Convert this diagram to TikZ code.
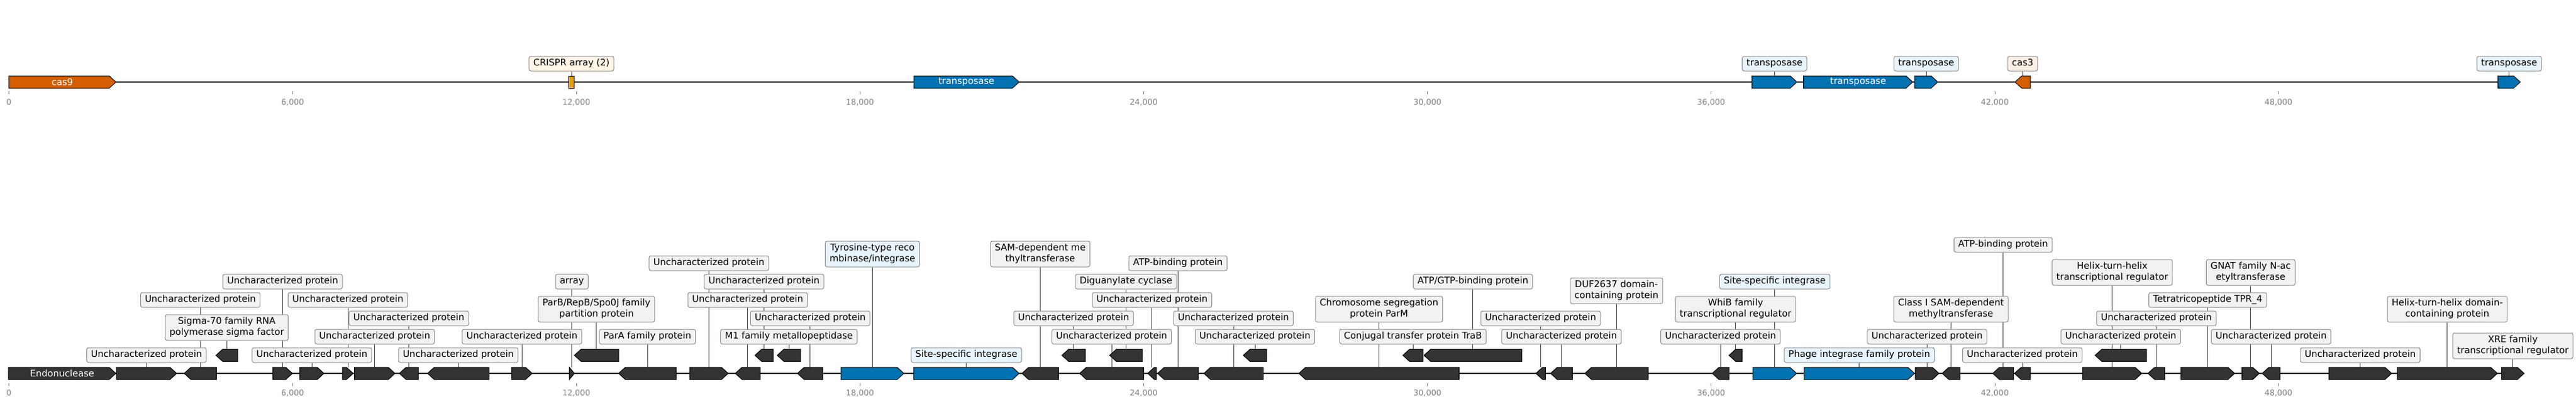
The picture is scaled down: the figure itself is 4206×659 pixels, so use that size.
\documentclass[tikz,border=0pt]{standalone}
\usepackage{fontspec}
\setmainfont{DejaVu Sans}
\definecolor{genedark}{HTML}{333333}
\definecolor{geneblue}{HTML}{0072B2}
\definecolor{geneorange}{HTML}{D55E00}
\definecolor{genegold}{HTML}{E69F00}
\definecolor{boxgray}{HTML}{F2F2F2}
\definecolor{boxblue}{HTML}{E8F4FB}
\definecolor{boxcream}{HTML}{FFF6E6}
\definecolor{boxpeach}{HTML}{FCEFE6}
\definecolor{boxedge}{HTML}{8C8C8C}
\definecolor{conncol}{HTML}{444444}
\definecolor{tickcol}{HTML}{808080}
\pgfdeclarelayer{bgfill}
\pgfdeclarelayer{background}
\pgfsetlayers{bgfill,background,main}
\tikzset{
  geneD/.style={fill=genedark, draw=black, line width=1pt, line join=miter},
  geneB/.style={fill=geneblue, draw=black, line width=1pt, line join=miter},
  geneO/.style={fill=geneorange, draw=black, line width=1pt, line join=miter},
  geneY/.style={fill=genegold, draw=black, line width=1pt},
  labbox/.style={draw=boxedge, line width=1pt, rounded corners=3pt, inner xsep=7pt, inner ysep=3pt, align=center, font=\fontsize{15}{18}\selectfont, text=black},
  labG/.style={fill=boxgray},
  labB/.style={fill=boxblue},
  labC/.style={fill=boxcream},
  labP/.style={fill=boxpeach},
  conn/.style={draw=conncol, line width=0.9pt},
  backbone/.style={draw=black, line width=2.2pt},
  gtext/.style={text=white, font=\fontsize{15}{18}\selectfont, inner sep=0pt},
  ticklab/.style={text=tickcol, font=\fontsize{13}{15}\selectfont, inner sep=0pt},
  tickmark/.style={draw=tickcol, line width=0.8pt}
}
\newcommand{\gR}[5]{%
  \pgfmathsetmacro{\ghd}{min(11,#3-#2)}%
  \pgfmathsetmacro{\gsh}{#3-\ghd}%
  \draw[#5] (#2,#4-10) -- (\gsh,#4-10) -- (#3,#4) -- (\gsh,#4+10) -- (#2,#4+10) -- cycle;%
  \coordinate (#1) at ({(#2+#3)/2},#4-10);%
}
\newcommand{\gL}[5]{%
  \pgfmathsetmacro{\ghd}{min(11,#3-#2)}%
  \pgfmathsetmacro{\gsh}{#2+\ghd}%
  \draw[#5] (#3,#4-10) -- (\gsh,#4-10) -- (#2,#4) -- (\gsh,#4+10) -- (#3,#4+10) -- cycle;%
  \coordinate (#1) at ({(#2+#3)/2},#4-10);%
}
\newcommand{\lab}[5]{%
  \node[labbox,#4] (#2) at (perpendicular cs: horizontal line through={(0,#3)}, vertical line through={(#1)}) {\strut #5};%
  \begin{pgfonlayer}{background}\draw[conn] (#2) -- (#1);\end{pgfonlayer}%
}
\newcommand{\labT}[6]{%
  \node[labbox,#4] (#2) at (perpendicular cs: horizontal line through={(0,#3)}, vertical line through={(#1)}) {\strut #5\\\strut #6};%
  \begin{pgfonlayer}{background}\draw[conn] (#2) -- (#1);\end{pgfonlayer}%
}
\newcommand{\gtxt}[3]{\node[gtext] (#2) at ([yshift=-10pt]#1) {#3};}
\begin{document}
\begin{tikzpicture}[x=1pt,y=-1pt]
\useasboundingbox (0,0) rectangle (4206,659);
\begin{pgfonlayer}{bgfill}
\fill[white] (0,0) rectangle (4206,659);
\end{pgfonlayer}

% ---------------- top track ----------------
\coordinate (topstart) at (14.3,134);
\coordinate (topend) at (4115,134);
\draw[backbone] (topstart) -- (topend);
\foreach \k/\t in {0/0,1/{6,000},2/{12,000},3/{18,000},4/{24,000},5/{30,000},6/{36,000},7/{42,000},8/{48,000}}{
  \draw[tickmark] ({14.6+\k*463.2},149) -- ({14.6+\k*463.2},154);
  \node[ticklab] (tt\k) at ({14.6+\k*463.2},167) {\t};
}
\gR{t1}{14.3}{189.3}{134}{geneO}
\gtxt{t1}{t1txt}{cas9}
\draw[geneY] (928.6,124) rectangle (937.5,144);
\coordinate (t2) at (933,124);
\lab{t2}{lt2}{104}{labC}{CRISPR array (2)}
\gR{t3}{1492}{1664}{134}{geneB}
\gtxt{t3}{t3txt}{transposase}
\gR{t4}{2860.7}{2934}{134}{geneB}
\lab{t4}{lt4}{104}{labB}{transposase}
\gR{t5}{2944.6}{3123}{134}{geneB}
\gtxt{t5}{t5txt}{transposase}
\gR{t6}{3126}{3164}{134}{geneB}
\lab{t6}{lt6}{104}{labB}{transposase}
\gL{t7}{3290}{3315}{134}{geneO}
\lab{t7}{lt7}{104}{labP}{cas3}
\gR{t8}{4078.6}{4115}{134}{geneB}
\lab{t8}{lt8}{104}{labB}{transposase}

% ---------------- bottom track ----------------
\coordinate (botstart) at (14,610);
\coordinate (botend) at (4121.3,610);
\draw[backbone] (botstart) -- (botend);
\foreach \k/\t in {0/0,1/{6,000},2/{12,000},3/{18,000},4/{24,000},5/{30,000},6/{36,000},7/{42,000},8/{48,000}}{
  \draw[tickmark] ({14.6+\k*463.2},626) -- ({14.6+\k*463.2},631);
  \node[ticklab] (tb\k) at ({14.6+\k*463.2},642) {\t};
}
\gR{b1}{13.8}{189.2}{610}{geneD}
\gtxt{b1}{b1txt}{Endonuclease}
\gR{b2}{190}{288.5}{610}{geneD}
\gL{b3}{300.7}{353.5}{610}{geneD}
\gL{u1}{352.6}{388}{580.5}{geneD}
\gR{b4}{445.4}{477.5}{610}{geneD}
\gR{b5}{489.4}{529}{610}{geneD}
\gR{b6}{559.2}{576.7}{610}{geneD}
\gR{b7}{578.5}{645}{610}{geneD}
\gL{b8}{652}{683}{610}{geneD}
\gL{b9}{698}{798.7}{610}{geneD}
\gR{b10}{835.4}{869}{610}{geneD}
\gR{b11}{929.6}{937.8}{610}{geneD}
\gL{u2}{937.8}{1010}{580.5}{geneD}
\gL{b12}{1010}{1104}{610}{geneD}
\gR{b13}{1126}{1189}{610}{geneD}
\gL{b14}{1200.5}{1241}{610}{geneD}
\gL{u3}{1232.6}{1262.4}{580.5}{geneD}
\gL{u4}{1269}{1307}{580.5}{geneD}
\gL{b15}{1302}{1343.7}{610}{geneD}
\gR{b16}{1373}{1475.8}{610}{geneB}
\gR{b17}{1491.8}{1664}{610}{geneB}
\gL{b18}{1668.6}{1728.3}{610}{geneD}
\gL{u5}{1733.8}{1772}{580.5}{geneD}
\gL{b19}{1762.7}{1867.4}{610}{geneD}
\gL{u6}{1811.8}{1865}{580.5}{geneD}
\gL{b20}{1873.8}{1888}{610}{geneD}
\gL{b21}{1890}{1956.5}{610}{geneD}
\gL{b22}{1965.6}{2062.5}{610}{geneD}
\gL{u7}{2030}{2068}{580.5}{geneD}
\gL{b23}{2120.7}{2382.4}{610}{geneD}
\gL{u8}{2290.5}{2323.6}{580.5}{geneD}
\gL{u9}{2325}{2484.8}{580.5}{geneD}
\gL{b24}{2507.7}{2523.3}{610}{geneD}
\gL{b25}{2531.6}{2567.4}{610}{geneD}
\gL{b26}{2587.6}{2691}{610}{geneD}
\gL{b27}{2795.6}{2823}{610}{geneD}
\gL{u10}{2823}{2844.5}{580.5}{geneD}
\gR{b28}{2862}{2933.5}{610}{geneB}
\gR{b29}{2945.5}{3126}{610}{geneB}
\gR{b30}{3127}{3166}{610}{geneD}
\gL{b31}{3171}{3200}{610}{geneD}
\gL{b32}{3253.6}{3287.6}{610}{geneD}
\gL{b33}{3289}{3315}{610}{geneD}
\gR{b34}{3400.6}{3497}{610}{geneD}
\gL{u11}{3420.8}{3504.8}{580.5}{geneD}
\gL{b35}{3507}{3534.7}{610}{geneD}
\gR{b36}{3560.8}{3648.6}{610}{geneD}
\gR{b37}{3660.7}{3689}{610}{geneD}
\gL{b38}{3693.6}{3722.9}{610}{geneD}
\gR{b39}{3802.6}{3905}{610}{geneD}
\gR{b40}{3914}{4077.7}{610}{geneD}
\gR{b41}{4084.4}{4121.3}{610}{geneD}

% labels
\lab{b2}{l2}{580}{labG}{Uncharacterized protein}
\lab{b3}{l3}{490}{labG}{Uncharacterized protein}
\labT{u1}{lu1}{535}{labG}{Sigma-70 family RNA}{polymerase sigma factor}
\lab{b4}{l4}{460}{labG}{Uncharacterized protein}
\lab{b5}{l5}{580}{labG}{Uncharacterized protein}
\lab{b6}{l6}{490}{labG}{Uncharacterized protein}
\lab{b7}{l7}{550}{labG}{Uncharacterized protein}
\lab{b8}{l8}{520}{labG}{Uncharacterized protein}
\lab{b9}{l9}{580}{labG}{Uncharacterized protein}
\lab{b10}{l10}{550}{labG}{Uncharacterized protein}
\lab{b11}{l11}{460}{labG}{array}
\labT{u2}{lu2}{505}{labG}{ParB/RepB/Spo0J family}{partition protein}
\lab{b12}{l12}{550}{labG}{ParA family protein}
\lab{b13}{l13}{430}{labG}{Uncharacterized protein}
\lab{b14}{l14}{490}{labG}{Uncharacterized protein}
\lab{u3}{lu3}{460}{labG}{Uncharacterized protein}
\lab{u4}{lu4}{550}{labG}{M1 family metallopeptidase}
\lab{b15}{l15}{520}{labG}{Uncharacterized protein}
\labT{b16}{l16}{415}{labB}{Tyrosine-type reco}{mbinase/integrase}
\lab{b17}{l17}{580}{labB}{Site-specific integrase}
\labT{b18}{l18}{415}{labG}{SAM-dependent me}{thyltransferase}
\lab{u5}{lu5}{520}{labG}{Uncharacterized protein}
\lab{b19}{l19}{550}{labG}{Uncharacterized protein}
\lab{u6}{lu6}{460}{labG}{Diguanylate cyclase}
\lab{b20}{l20}{490}{labG}{Uncharacterized protein}
\lab{b21}{l21}{430}{labG}{ATP-binding protein}
\lab{b22}{l22}{520}{labG}{Uncharacterized protein}
\lab{u7}{lu7}{550}{labG}{Uncharacterized protein}
\labT{b23}{l23}{505}{labG}{Chromosome segregation}{protein ParM}
\lab{u8}{lu8}{550}{labG}{Conjugal transfer protein TraB}
\lab{u9}{lu9}{460}{labG}{ATP/GTP-binding protein}
\lab{b24}{l24}{520}{labG}{Uncharacterized protein}
\lab{b25}{l25}{550}{labG}{Uncharacterized protein}
\labT{b26}{l26}{475}{labG}{DUF2637 domain-}{containing protein}
\lab{b27}{l27}{550}{labG}{Uncharacterized protein}
\labT{u10}{lu10}{505}{labG}{WhiB family}{transcriptional regulator}
\lab{b28}{l28}{460}{labB}{Site-specific integrase}
\lab{b29}{l29}{580}{labB}{Phage integrase family protein}
\lab{b30}{l30}{550}{labG}{Uncharacterized protein}
\labT{b31}{l31}{505}{labG}{Class I SAM-dependent}{methyltransferase}
\lab{b32}{l32}{400}{labG}{ATP-binding protein}
\lab{b33}{l33}{580}{labG}{Uncharacterized protein}
\labT{b34}{l34}{445}{labG}{Helix-turn-helix}{transcriptional regulator}
\lab{u11}{lu11}{550}{labG}{Uncharacterized protein}
\lab{b35}{l35}{520}{labG}{Uncharacterized protein}
\lab{b36}{l36}{490}{labG}{Tetratricopeptide TPR\_4}
\labT{b37}{l37}{445}{labG}{GNAT family N-ac}{etyltransferase}
\lab{b38}{l38}{550}{labG}{Uncharacterized protein}
\lab{b39}{l39}{580}{labG}{Uncharacterized protein}
\labT{b40}{l40}{505}{labG}{Helix-turn-helix domain-}{containing protein}
\labT{b41}{l41}{565}{labG}{XRE family}{transcriptional regulator}
\end{tikzpicture}
\end{document}
